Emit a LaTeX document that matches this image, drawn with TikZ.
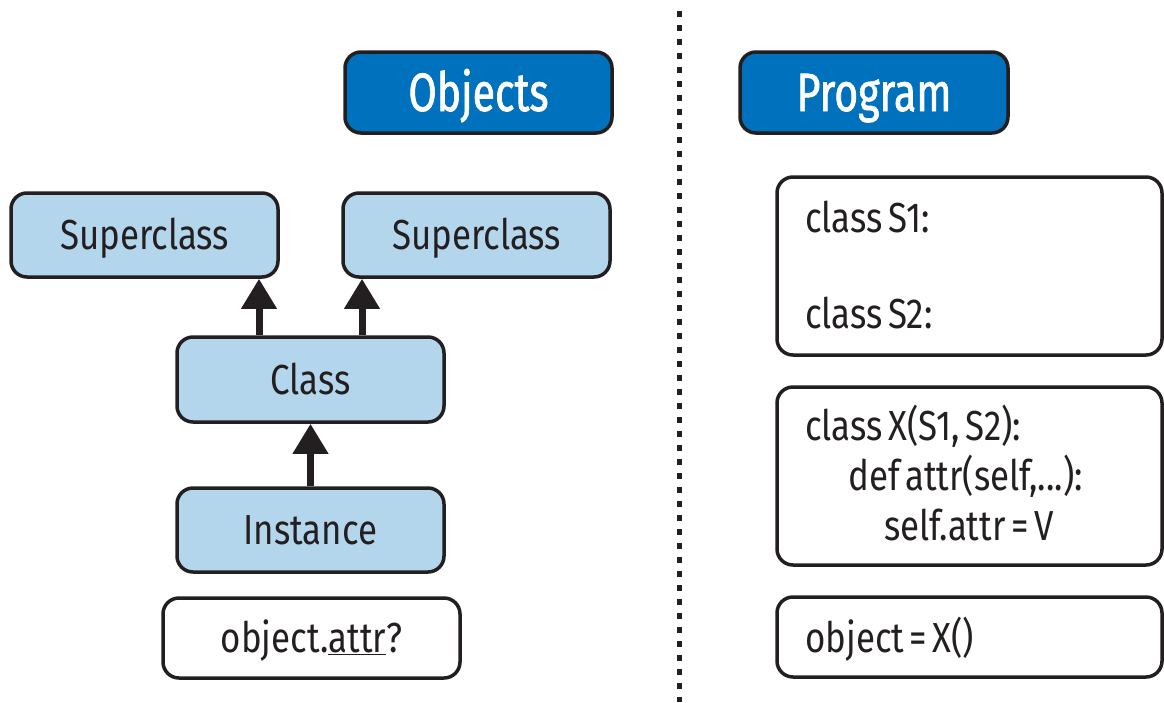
\documentclass[tikz,border=0pt]{standalone}
\usepackage{fontspec}
\setmainfont{Fira Sans}[FakeStretch=0.83, WordSpace=0.6]
\newfontfamily\hdrfont{Fira Sans}[FakeStretch=0.76, FakeBold=1.2]
\usetikzlibrary{arrows.meta}
\definecolor{hdrblue}{HTML}{0071BC}
\definecolor{lightblue}{HTML}{B3D6EC}
\definecolor{ink}{HTML}{231F20}
\tikzset{
  box/.style={draw=ink, line width=3.5pt, rounded corners=16pt, rectangle, inner sep=0pt,
    text=ink, font=\fontsize{42}{50}\selectfont, text height=29pt, text depth=0pt},
  hdr/.style={box, fill=hdrblue, text=white, font=\hdrfont\fontsize{54}{60}\selectfont, text height=37pt},
  cls/.style={box, fill=lightblue},
  plain/.style={box, fill=white},
  code/.style={anchor=base west, inner sep=0pt, text=ink, font=\fontsize{42}{50}\selectfont},
  arr/.style={draw=ink, line width=7pt, -{Triangle[width=34pt,length=30pt]}},
  divider/.style={draw=ink, line width=5pt, dash pattern=on 6pt off 8pt}
}
\begin{document}
\begin{tikzpicture}[x=1pt,y=-1pt]
\useasboundingbox (0,0) rectangle (1164,702);
% headers
\node[hdr, minimum width=267pt, minimum height=81pt] (objects) at (478.5,92.5) {Objects};
\node[hdr, minimum width=268pt, minimum height=81pt] (program) at (874,92.5) {Program};
% left hierarchy
\node[cls, minimum width=267pt, minimum height=84pt] (sup1) at (144.5,235) {Superclass};
\node[cls, minimum width=267pt, minimum height=84pt] (sup2) at (476.5,235) {Superclass};
\node[cls, minimum width=267pt, minimum height=85pt] (class) at (310.5,379.5) {Class};
\node[cls, minimum width=267pt, minimum height=84pt] (inst) at (310.5,530) {Instance};
\node[plain, minimum width=297pt, minimum height=80pt] (query) at (311.5,638) {object.\underline{attr}?};
% arrows
\draw[arr] (259,0 |- class.north) -- (259,0 |- sup1.south);
\draw[arr] (362,0 |- class.north) -- (362,0 |- sup2.south);
\draw[arr] (inst.north) -- (class.south);
% divider
\coordinate (dtop) at (679,11);
\coordinate (dbot) at (679,702);
\draw[divider] (dtop) -- (dbot);
% right program boxes
\node[plain, minimum width=385pt, minimum height=178pt] (sbox) at (969.5,266) {};
\node[plain, minimum width=385pt, minimum height=178pt] (xbox) at (969.5,476) {};
\node[plain, minimum width=385pt, minimum height=80pt] (obox) at (969.5,637) {};
\node[code] (s1) at (805,232) {class S1:};
\node[code] (s2) at (805,328) {class S2:};
\node[code] (x1) at (805,440) {class X(S1, S2):};
\node[code] (x2) at (848,490) {def attr(self,...):};
\node[code] (x3) at (884,540) {self.attr = V};
\node[code] (o1) at (805,652) {object = X()};
\end{tikzpicture}
\end{document}
